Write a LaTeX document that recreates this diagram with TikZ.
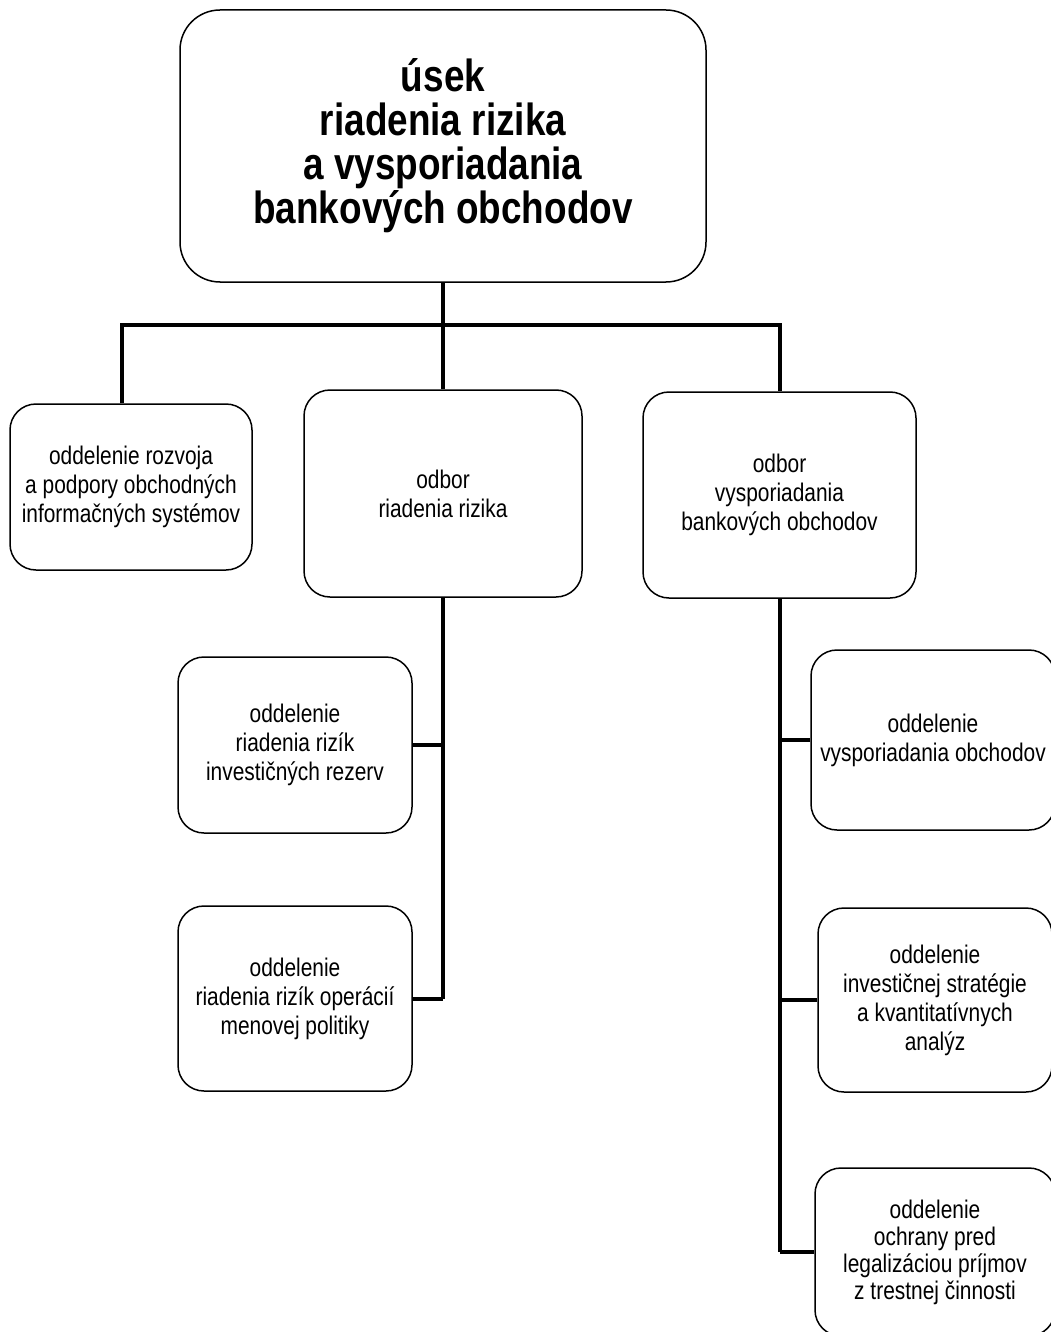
\documentclass[tikz,border=0pt]{standalone}
\usepackage{fontspec}
\setmainfont{Liberation Sans}[FakeStretch=0.82]
\usepackage{tikz}

\tikzset{
	box/.style = {draw, line width = 1.5pt, rounded corners = 26pt, align = center,
		inner sep = 0pt, font = \fontsize{25.5}{29}\selectfont},
	link/.style = {line width = 4pt}
}

\begin{document}
\begin{tikzpicture}[x=1pt,y=-1pt]
		\useasboundingbox (0,0) rectangle (1051,1332);
		\node[box, minimum width = 526pt, minimum height = 272pt, rounded corners = 40pt,
			font = \fontsize{45}{44}\selectfont\bfseries] (usek) at (443,146)
			{úsek\\ riadenia rizika\\ a vysporiadania\\ bankových obchodov};
		\node[box, minimum width = 242pt, minimum height = 166pt] (rozvoj) at (131,487)
			{oddelenie rozvoja\\ a podpory obchodných\\ informačných systémov};
		\node[box, minimum width = 278pt, minimum height = 207pt] (riziko) at (443,493.5)
			{odbor\\ riadenia rizika};
		\node[box, minimum width = 273pt, minimum height = 206pt] (vysp) at (779.5,495)
			{odbor\\ vysporiadania\\ bankových obchodov};
		\node[box, minimum width = 234pt, minimum height = 176pt] (rezervy) at (295,745)
			{oddelenie\\ riadenia rizík\\ investičných rezerv};
		\node[box, minimum width = 234pt, minimum height = 185pt] (menova) at (295,998.5)
			{oddelenie\\ riadenia rizík operácií\\ menovej politiky};
		\node[box, minimum width = 244pt, minimum height = 180pt] (obchody) at (933,740)
			{oddelenie\\ vysporiadania obchodov};
		\node[box, minimum width = 234pt, minimum height = 184pt] (strategia) at (935,1000)
			{oddelenie\\ investičnej stratégie\\ a kvantitatívnych\\ analýz};
		\node[box, minimum width = 240pt, minimum height = 168pt,
			font = \fontsize{25.5}{27}\selectfont] (prijmy) at (935,1252)
			{oddelenie\\ ochrany pred\\ legalizáciou príjmov\\ z trestnej činnosti};

		\coordinate (bus) at (443,325);
		\draw[link] (usek.south) -- (bus);
		\draw[link] ([xshift=-9pt]rozvoj.north) -- ([xshift=-9pt]rozvoj.north |- bus)
			-- (vysp.north |- bus) -- (vysp.north);
		\draw[link] (riziko.north) -- (bus);
		\draw[link] (riziko.south) -- (riziko.south |- menova.east);
		\draw[link] (rezervy.east) -- (rezervy.east -| riziko.south);
		\draw[link] (menova.east) -- (menova.east -| riziko.south);
		\draw[link] (vysp.south) -- (vysp.south |- prijmy.west);
		\draw[link] (obchody.west) -- (obchody.west -| vysp.south);
		\draw[link] (strategia.west) -- (strategia.west -| vysp.south);
		\draw[link] (prijmy.west) -- (prijmy.west -| vysp.south);
	\end{tikzpicture}
\end{document}
